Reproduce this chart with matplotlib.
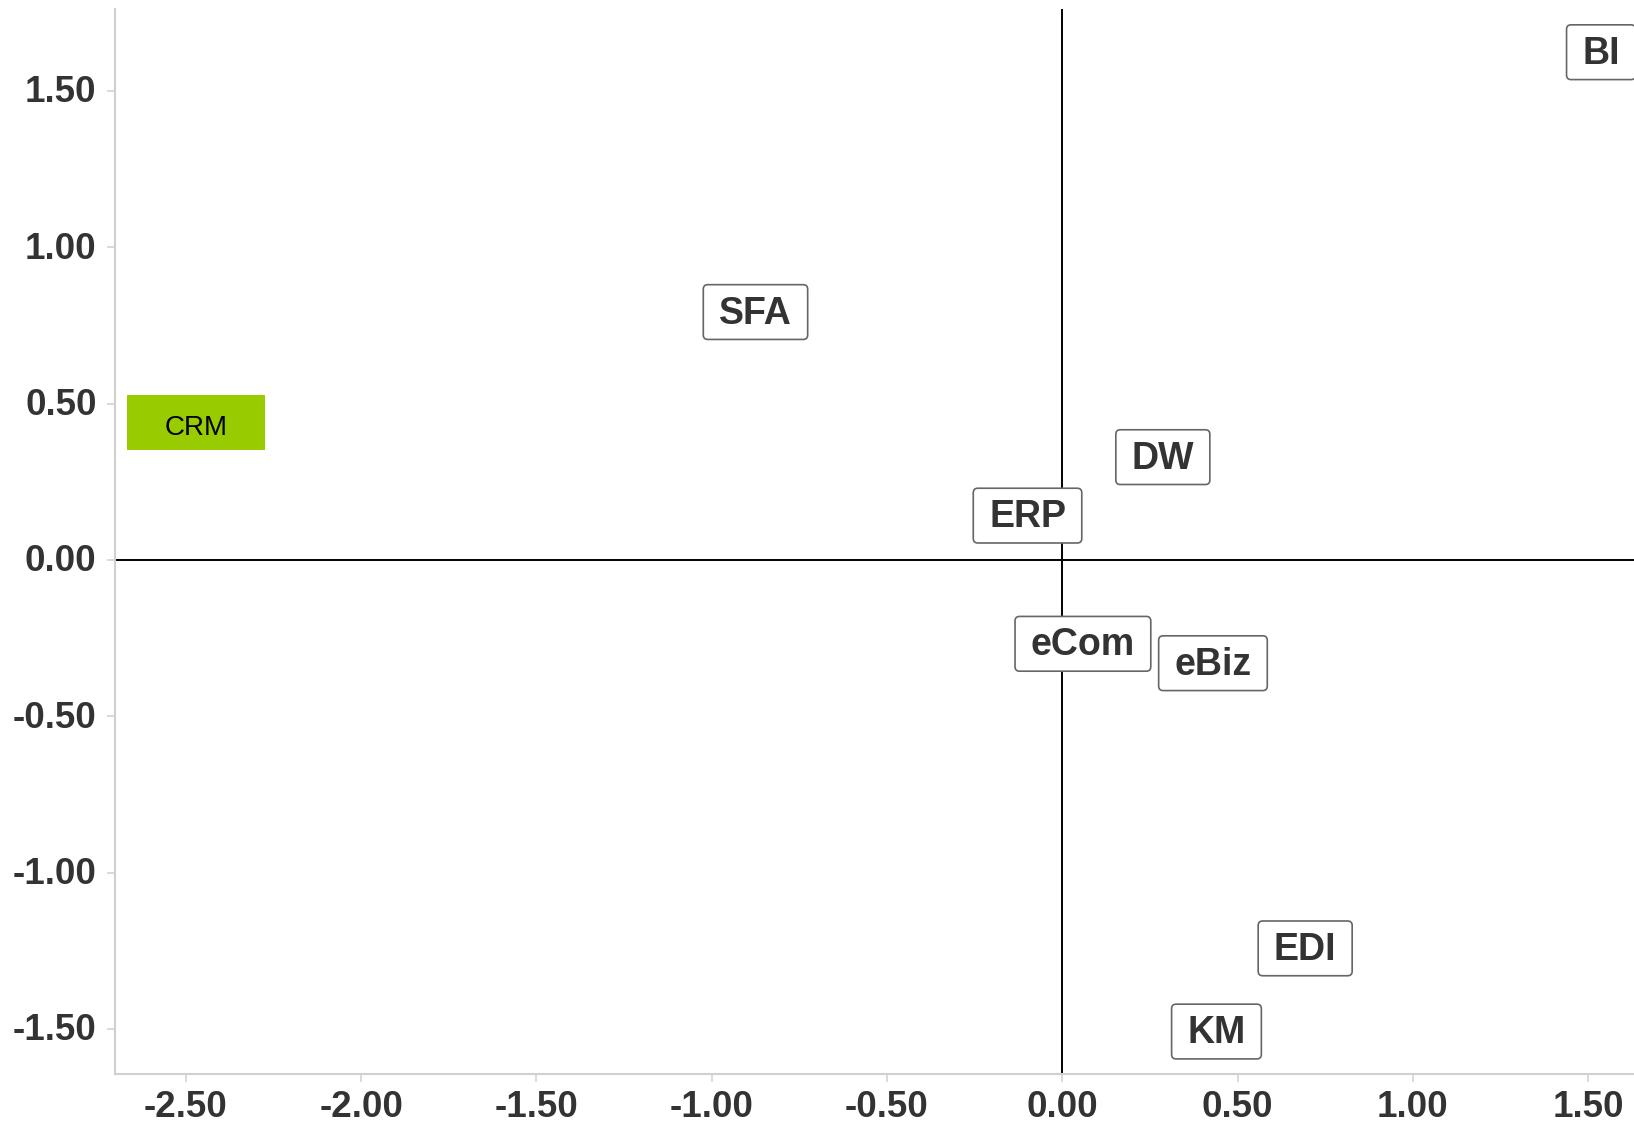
import matplotlib
matplotlib.use("Agg")
import matplotlib.pyplot as plt
from matplotlib.patches import BoxStyle
from matplotlib.ticker import FuncFormatter
from matplotlib.transforms import ScaledTranslation

labels = ["BI", "SFA", "CRM", "DW", "ERP", "eCom", "eBiz", "EDI", "KM"]
xs = [1.537, -0.875, -2.472, 0.287, -0.099, 0.059, 0.430, 0.693, 0.440]
ys = [1.619, 0.788, 0.423, 0.324, 0.137, -0.273, -0.335, -1.247, -1.513]
highlight = "CRM"
xticks = [-2.5, -2.0, -1.5, -1.0, -0.5, 0.0, 0.5, 1.0, 1.5]
yticks = [-1.5, -1.0, -0.5, 0.0, 0.5, 1.0, 1.5]

plt.rcParams['font.family'] = ['Liberation Sans', 'DejaVu Sans']

W, H = 1634, 1124
fig = plt.figure(figsize=(W / 100, H / 100), dpi=100)
ax = fig.add_axes([115 / W, 1 - 1074 / H, 1 - 115 / W, (1074 - 9) / H])
ax.set_xlim(-2.702, 1.631)
ax.set_ylim(-1.644, 1.762)


def make_box(padx, pad_top, pad_bot, rnd):
    base = BoxStyle.Round(pad=0, rounding_size=rnd) if rnd > 0 else BoxStyle.Square(pad=0)

    def box(x0, y0, width, height, mutation_size):
        px = padx * mutation_size
        pt = pad_top * mutation_size
        pb = pad_bot * mutation_size
        return base(x0 - px, y0 - pb, width + 2 * px, height + pt + pb, mutation_size)
    return box


normal_box = make_box(0.42, 0.29, 0.21, 0.12)
crm_box = make_box(1.35, 0.71, 0.33, 0)

for lab, x, y in zip(labels, xs, ys):
    if lab == highlight:
        ax.text(x, y, lab, ha='center', va='center', fontsize=20, color='black',
                fontweight='normal',
                bbox=dict(boxstyle=crm_box, facecolor='#99cc00', edgecolor='none'),
                zorder=5)
    else:
        ax.text(x, y, lab, ha='center', va='center', fontsize=27, color='#333333',
                fontweight='bold',
                bbox=dict(boxstyle=normal_box, facecolor='white', edgecolor='#666666',
                          linewidth=1.2),
                zorder=5)

ax.axhline(0, color='black', linewidth=1.4, zorder=2)
ax.axvline(0, color='black', linewidth=1.4, zorder=2)

for s in ['top', 'right']:
    ax.spines[s].set_visible(False)
for s in ['left', 'bottom']:
    ax.spines[s].set_color('#d0d0d0')
    ax.spines[s].set_linewidth(1.5)

ax.set_xticks(xticks)
ax.set_yticks(yticks)
fmt = FuncFormatter(lambda v, p: ("%.2f" % v).replace("-0.00", "0.00"))
ax.xaxis.set_major_formatter(fmt)
ax.yaxis.set_major_formatter(fmt)
ax.tick_params(axis='both', colors='#d0d0d0', length=5.8, width=1.1,
               labelcolor='#333333', labelsize=26.5)
ax.tick_params(axis='x', pad=5.6)
ax.tick_params(axis='y', pad=7.5)
for t in ax.get_xticklabels():
    t.set_fontweight('bold')
shift = ScaledTranslation(0, -2 / 100, fig.dpi_scale_trans)
for tk in ax.yaxis.get_major_ticks():
    tk.label1.set_fontweight('bold')
    tk.label1.set_verticalalignment('center')
    tk.label1.set_transform(tk.label1.get_transform() + shift)

fig.savefig("out.png", dpi=100)
